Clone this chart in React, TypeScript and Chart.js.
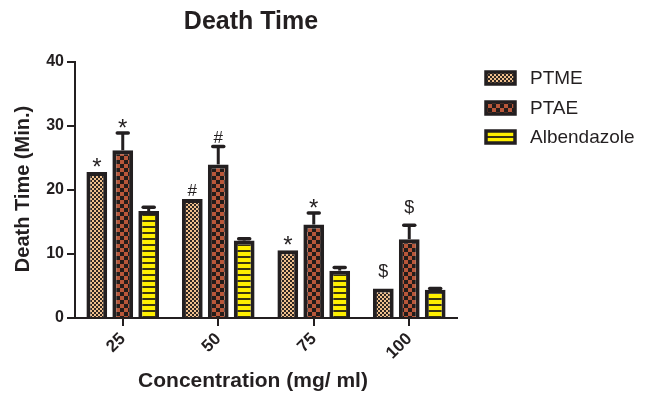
import React, { useEffect, useRef } from 'react';
import { Chart, registerables } from 'chart.js';

Chart.register(...registerables);

const categories = ['25', '50', '75', '100'];
const seriesNames = ['PTME', 'PTAE', 'Albendazole'];
const ptme = [22.8, 18.6, 10.6, 4.6];
const ptae = [26.2, 24.0, 14.6, 12.3];
const albendazole = [16.7, 12.1, 7.4, 4.4];
const ptmeErr = [0, 0, 0, 0];
const ptaeErr = [2.7, 2.8, 1.8, 2.2];
const albErr = [0.6, 0.3, 0.5, 0.2];
const ptmeMarks = ['*', '#', '*', '$'];
const ptaeMarks = ['*', '#', '*', '$'];
const albMarks = ['', '', '', ''];
const yMin = 0;
const yMax = 40;
const yStep = 10;

const FONT = "'Liberation Sans', Arial, Helvetica, sans-serif";
const INK = '#231f20';

function makePattern(kind: string): CanvasPattern | string {
  const c = document.createElement('canvas');
  const ctx = c.getContext('2d');
  if (!ctx) return '#999';
  if (kind === 'ptme') {
    c.width = 4; c.height = 4;
    ctx.fillStyle = '#2e2622';
    ctx.fillRect(0, 0, 4, 4);
    ctx.fillStyle = '#efbf8c';
    ctx.fillRect(0, 0, 2, 2);
    ctx.fillRect(2, 2, 2, 2);
  } else if (kind === 'ptae') {
    c.width = 8; c.height = 8;
    ctx.fillStyle = '#231c1a';
    ctx.fillRect(0, 0, 8, 8);
    ctx.fillStyle = '#b8573a';
    ctx.fillRect(0, 0, 4, 4);
    ctx.fillRect(4, 4, 4, 4);
  } else {
    c.width = 4; c.height = 6;
    ctx.fillStyle = '#fff000';
    ctx.fillRect(0, 0, 4, 6);
    ctx.fillStyle = '#3a3410';
    ctx.fillRect(0, 4, 4, 2);
  }
  return ctx.createPattern(c, 'repeat') || '#999';
}

export default function App() {
  const ref = useRef<HTMLCanvasElement | null>(null);

  useEffect(() => {
    if (!ref.current) return;
    const patterns = [makePattern('ptme'), makePattern('ptae'), makePattern('alb')];
    const values = [ptme, ptae, albendazole];
    const errors = [ptmeErr, ptaeErr, albErr];
    const marks = [ptmeMarks, ptaeMarks, albMarks];

    const overlay = {
      id: 'overlay',
      afterDatasetsDraw(chart: any) {
        const ctx = chart.ctx;
        const yScale = chart.scales.y;
        ctx.save();
        values.forEach((series, di) => {
          const meta = chart.getDatasetMeta(di);
          meta.data.forEach((bar: any, i: number) => {
            const err = errors[di][i];
            const top = yScale.getPixelForValue(series[i]);
            let anchor = top;
            if (err > 0) {
              const capY = yScale.getPixelForValue(series[i] + err);
              anchor = capY;
              ctx.strokeStyle = INK;
              ctx.lineCap = 'butt';
              ctx.lineWidth = 3;
              ctx.beginPath();
              ctx.moveTo(bar.x, top);
              ctx.lineTo(bar.x, capY);
              ctx.stroke();
              ctx.lineCap = 'round';
              ctx.lineWidth = 3.5;
              ctx.beginPath();
              ctx.moveTo(bar.x - 5.5, capY);
              ctx.lineTo(bar.x + 5.5, capY);
              ctx.stroke();
            }
            const m = marks[di][i];
            if (m) {
              ctx.fillStyle = INK;
              ctx.textAlign = 'center';
              ctx.textBaseline = 'alphabetic';
              if (m === '*') {
                ctx.font = `24px ${FONT}`;
                ctx.fillText(m, bar.x, anchor + 3);
              } else if (m === '#') {
                ctx.font = `17px ${FONT}`;
                ctx.fillText(m, bar.x, anchor - 3);
              } else {
                ctx.font = `18px ${FONT}`;
                ctx.fillText(m, bar.x, anchor - 12);
              }
            }
          });
        });
        ctx.restore();
      },
      afterDraw(chart: any) {
        const ctx = chart.ctx;
        const area = chart.chartArea;
        ctx.save();
        ctx.fillStyle = INK;
        // Title
        ctx.font = `bold 25px ${FONT}`;
        ctx.textAlign = 'center';
        ctx.textBaseline = 'middle';
        ctx.fillText('Death Time', 251, 22);
        // X axis title
        ctx.font = `bold 21px ${FONT}`;
        ctx.fillText('Concentration (mg/ ml)', 253, 381);
        // Y axis title
        ctx.save();
        ctx.translate(23, (area.top + area.bottom) / 2 - 1);
        ctx.rotate(-Math.PI / 2);
        ctx.font = `bold 20px ${FONT}`;
        ctx.fillText('Death Time (Min.)', 0, 0);
        ctx.restore();
        // Legend
        const rows = [78, 108, 137];
        seriesNames.forEach((name, i) => {
          const y = rows[i];
          ctx.fillStyle = patterns[i] as any;
          ctx.fillRect(486, y - 6, 29, 12);
          ctx.strokeStyle = INK;
          ctx.lineWidth = 3.5;
          ctx.strokeRect(486, y - 6, 29, 12);
          ctx.fillStyle = INK;
          ctx.font = `19px ${FONT}`;
          ctx.textAlign = 'left';
          ctx.textBaseline = 'middle';
          ctx.fillText(name, 530, y + 1);
        });
        ctx.restore();
      },
    };

    const chart = new Chart(ref.current, {
      type: 'bar',
      data: {
        labels: categories,
        datasets: seriesNames.map((name, i) => ({
          label: name,
          data: values[i],
          backgroundColor: patterns[i] as any,
          borderColor: INK,
          borderWidth: 4,
          categoryPercentage: 0.815,
          barPercentage: 0.8,
        })),
      },
      options: {
        animation: false,
        responsive: false,
        events: [],
        layout: { padding: { top: 62, right: 199, left: 0, bottom: 0 } },
        plugins: {
          legend: { display: false },
          title: { display: false },
          tooltip: { enabled: false },
        },
        scales: {
          x: {
            afterFit(scale: any) { scale.height = 76; },
            grid: {
              offset: false,
              drawOnChartArea: false,
              drawTicks: true,
              tickLength: 8,
              color: INK,
              lineWidth: 2,
            },
            border: { display: true, color: INK, width: 2 },
            ticks: {
              color: INK,
              font: { family: FONT, size: 17, weight: 'bold' },
              minRotation: 45,
              maxRotation: 45,
              padding: 3,
            },
          },
          y: {
            min: yMin,
            max: yMax,
            afterFit(scale: any) { scale.width = 75; },
            grid: {
              drawOnChartArea: false,
              drawTicks: true,
              tickLength: 8,
              color: INK,
              lineWidth: 2,
            },
            border: { display: true, color: INK, width: 2 },
            ticks: {
              stepSize: yStep,
              color: INK,
              font: { family: FONT, size: 16, weight: 'bold' },
              padding: 3,
            },
          },
        },
      },
      plugins: [overlay],
    });
    return () => chart.destroy();
  }, []);

  return (
    <div style={{ position: 'absolute', left: 0, top: 0, width: 656, height: 394, background: '#fff' }}>
      <canvas ref={ref} width={656} height={394} style={{ display: 'block', width: 656, height: 394 }} />
    </div>
  );
}
